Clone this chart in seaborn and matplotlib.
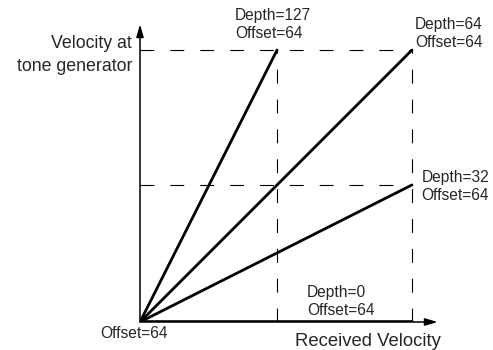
import matplotlib
matplotlib.use("Agg")
import matplotlib.pyplot as plt
import pandas as pd
import seaborn as sns

sns.set_style("white")
plt.rcParams["font.family"] = ["Liberation Sans", "DejaVu Sans"]
plt.rcParams["lines.scale_dashes"] = False

# Velocity curves: each starts at the origin (Offset=64) and rises to its end point
depths = [127, 64, 32, 0]
end_x = [64, 127, 127, 127]
end_y = [127, 127, 64, 0]
line_labels = ["Depth=127\nOffset=64", "Depth=64\nOffset=64",
               "Depth=32\nOffset=64", "Depth=0\nOffset=64"]

# Dashed reference levels
guide_levels = [127, 64]
guide_verticals = [64, 127]

rows = []
for d, xe, ye in zip(depths, end_x, end_y):
    rows.append({"depth": d, "received": 0, "velocity": 0})
    rows.append({"depth": d, "received": xe, "velocity": ye})
df = pd.DataFrame(rows)

fig = plt.figure(figsize=(4.93, 3.5), dpi=100)
ax = fig.add_axes([140 / 493, 28 / 350, 299.8 / 493, 299.8 / 350])
ax.set_xlim(0, 140)
ax.set_ylim(0, 140)
ax.axis("off")

dash = (0, (10, 11.5))
for lvl in guide_levels:
    ax.plot([0, 127], [lvl, lvl], color="black", lw=0.8, ls=dash, zorder=1)
for v in guide_verticals:
    ax.plot([v, v], [0, 127], color="black", lw=0.8, ls=dash, zorder=1)

# Axes with arrow heads
arrow = dict(arrowstyle="-|>,head_length=0.75,head_width=0.22",
             color="black", lw=1.1, shrinkA=0, shrinkB=0)
ax.annotate("", xy=(0, 139), xytext=(0, 0), arrowprops=arrow, zorder=2)
ax.annotate("", xy=(139, 0), xytext=(0, 0), arrowprops=arrow, zorder=2)

main = df[df["depth"] != 0]
sns.lineplot(data=main, x="received", y="velocity", units="depth",
             estimator=None, color="black", lw=2.0, ax=ax, zorder=3,
             legend=False)
flat = df[df["depth"] == 0]
sns.lineplot(data=flat, x="received", y="velocity", estimator=None,
             color="black", lw=2.6, ax=ax, zorder=3, legend=False)
ax.set_xlim(0, 140)
ax.set_ylim(0, 140)

fs = 11.2
ls = 1.25
ax.text(44.4, 139.0, line_labels[0], fontsize=fs, va="center", ha="left",
        linespacing=ls, clip_on=False)
ax.text(128.4, 134.9, line_labels[1], fontsize=fs, va="center", ha="left",
        linespacing=ls, clip_on=False)
ax.text(131.5, 63.5, line_labels[2], fontsize=fs, va="center", ha="left",
        linespacing=ls, clip_on=False)
ax.text(78.0, 9.8, line_labels[3], fontsize=fs, va="center", ha="left",
        linespacing=ls, clip_on=False)
ax.text(-2.8, -5.6, "Offset=64", fontsize=fs, va="center", ha="center",
        clip_on=False)

ax.text(140.3, -9.3, "Received Velocity", fontsize=13.3, va="center",
        ha="right", clip_on=False)
ax.text(-3.7, 124.7, "Velocity at\ntone generator", fontsize=12.8,
        va="center", ha="right", multialignment="right", linespacing=1.45,
        clip_on=False)

fig.savefig("out.png", dpi=100)
